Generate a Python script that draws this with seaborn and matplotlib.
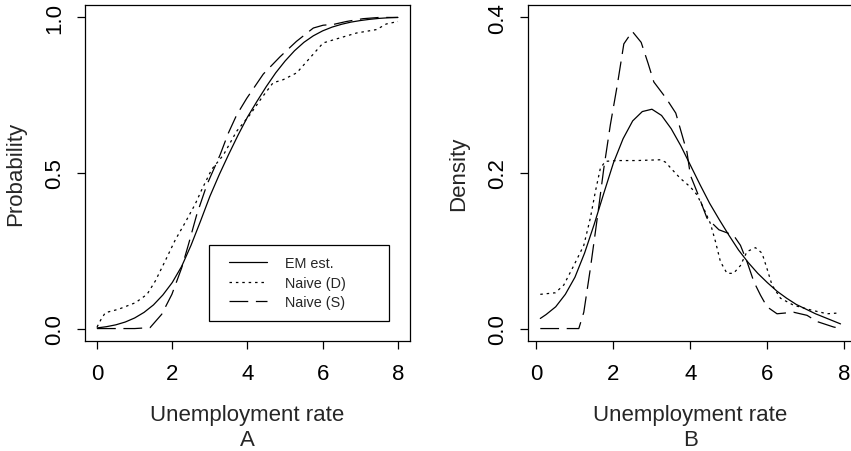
import numpy as np
import pandas as pd
import matplotlib
matplotlib.use("Agg")
import matplotlib.pyplot as plt
from matplotlib.patches import Rectangle
from matplotlib.lines import Line2D
import seaborn as sns

# ---- Panel A: estimated distribution functions of the unemployment rate ----
cdf_em_x = [0, 0.25, 0.5, 0.75, 1.0, 1.25, 1.5, 1.75, 2.0, 2.25, 2.5, 2.75, 3.0,
            3.25, 3.5, 3.75, 4.0, 4.25, 4.5, 4.75, 5.0, 5.25, 5.5, 5.75, 6.0,
            6.25, 6.5, 6.75, 7.0, 7.25, 7.5, 7.75, 8.0]
cdf_em_y = [0.002, 0.006, 0.012, 0.021, 0.034, 0.052, 0.076, 0.108, 0.148, 0.200,
            0.268, 0.345, 0.425, 0.495, 0.560, 0.622, 0.680, 0.730, 0.778, 0.822,
            0.860, 0.893, 0.920, 0.941, 0.957, 0.969, 0.978, 0.985, 0.990, 0.994,
            0.997, 0.999, 1.000]

cdf_d_x = [0.0, 0.1, 0.22, 0.57, 1.02, 1.33, 1.55, 1.81, 2.08, 2.34, 2.61, 2.79,
           3.05, 3.36, 3.71, 4.07, 4.38, 4.68, 4.95, 5.31, 5.66, 6.01, 6.45, 6.90,
           7.43, 7.69, 8.0]
cdf_d_y = [0.005, 0.028, 0.051, 0.062, 0.083, 0.110, 0.153, 0.217, 0.285, 0.340,
           0.400, 0.448, 0.512, 0.558, 0.634, 0.688, 0.742, 0.790, 0.800, 0.822,
           0.870, 0.918, 0.934, 0.950, 0.961, 0.979, 0.987]

cdf_s_x = [0.0, 0.5, 1.0, 1.41, 1.72, 1.99, 2.25, 2.43, 2.65, 2.92, 3.27, 3.49,
           3.71, 3.98, 4.42, 4.86, 5.30, 5.75, 6.01, 6.30, 6.63, 7.07, 7.50, 8.0]
cdf_s_y = [0.0, 0.0, 0.0, 0.003, 0.046, 0.110, 0.195, 0.270, 0.366, 0.462, 0.558,
           0.628, 0.686, 0.740, 0.818, 0.873, 0.923, 0.966, 0.975, 0.978, 0.987,
           0.996, 1.0, 1.0]

# ---- Panel B: estimated densities ----
pdf_em_x = [0.1, 0.25, 0.5, 0.75, 1.0, 1.25, 1.5, 1.75, 2.0, 2.25, 2.5, 2.75, 3.0,
            3.25, 3.5, 3.75, 4.0, 4.25, 4.5, 4.75, 5.0, 5.25, 5.5, 5.75, 6.0,
            6.25, 6.5, 6.75, 7.0, 7.25, 7.5, 7.75, 7.9]
pdf_em_y = [0.013, 0.018, 0.028, 0.044, 0.066, 0.097, 0.134, 0.174, 0.213, 0.244,
            0.267, 0.279, 0.282, 0.274, 0.257, 0.235, 0.210, 0.185, 0.161, 0.140,
            0.120, 0.101, 0.085, 0.071, 0.059, 0.048, 0.039, 0.031, 0.025, 0.019,
            0.014, 0.009, 0.006]

pdf_d_x = [0.1, 0.49, 0.71, 0.97, 1.23, 1.40, 1.53, 1.66, 1.79, 2.1, 2.6, 3.22,
           3.35, 3.57, 3.74, 4.0, 4.17, 4.35, 4.52, 4.65, 4.78, 4.95, 5.12, 5.30,
           5.47, 5.69, 5.86, 5.99, 6.12, 6.34, 6.68, 7.12, 7.55, 7.85]
pdf_d_y = [0.044, 0.046, 0.056, 0.081, 0.107, 0.142, 0.176, 0.206, 0.215, 0.216,
           0.216, 0.217, 0.214, 0.202, 0.193, 0.182, 0.172, 0.154, 0.135, 0.112,
           0.086, 0.071, 0.071, 0.081, 0.099, 0.104, 0.097, 0.077, 0.056, 0.039,
           0.030, 0.024, 0.019, 0.020]

pdf_s_x = [0.1, 0.6, 1.10, 1.23, 1.40, 1.58, 1.75, 1.92, 2.10, 2.27, 2.49, 2.72,
           2.90, 3.05, 3.37, 3.62, 3.91, 4.0, 4.17, 4.43, 4.74, 5.12, 5.30, 5.47,
           5.65, 5.82, 5.99, 6.25, 6.68, 7.03, 7.29, 7.72, 7.9]
pdf_s_y = [0.0, 0.0, 0.0, 0.021, 0.077, 0.142, 0.206, 0.262, 0.313, 0.366, 0.382,
           0.368, 0.341, 0.317, 0.296, 0.277, 0.227, 0.197, 0.176, 0.142, 0.127,
           0.120, 0.107, 0.086, 0.060, 0.043, 0.028, 0.019, 0.021, 0.017, 0.009,
           0.002, 0.0]

series_names = ["EM est.", "Naive (D)", "Naive (S)"]
x_ticks = [0, 2, 4, 6, 8]
prob_ticks = [0.0, 0.5, 1.0]
prob_labels = ["0.0", "0.5", "1.0"]
dens_ticks = [0.0, 0.2, 0.4]
dens_labels = ["0.0", "0.2", "0.4"]


def long_frame(pairs):
    frames = []
    for name, (xs, ys) in zip(series_names, pairs):
        frames.append(pd.DataFrame({"rate": xs, "value": ys, "series": name}))
    return pd.concat(frames, ignore_index=True)


cdf_df = long_frame([(cdf_em_x, cdf_em_y), (cdf_d_x, cdf_d_y), (cdf_s_x, cdf_s_y)])
pdf_df = long_frame([(pdf_em_x, pdf_em_y), (pdf_d_x, pdf_d_y), (pdf_s_x, pdf_s_y)])

sns.set_theme(style="white")
plt.rcParams["font.family"] = ["Liberation Sans", "DejaVu Sans"]
plt.rcParams["lines.scale_dashes"] = False

LW = 0.9
dash_map = {"EM est.": "", "Naive (D)": (1.8, 2.8), "Naive (S)": (13.5, 5.5)}
palette = {n: "black" for n in series_names}

fig = plt.figure(figsize=(8.51, 4.52), dpi=100)
axA = fig.add_axes([85 / 851, 1 - 342 / 452, 325 / 851, 336 / 452])
axB = fig.add_axes([528.3 / 851, 1 - 342 / 452, 0.3810, 336 / 452])

for ax, df in ((axA, cdf_df), (axB, pdf_df)):
    sns.lineplot(data=df, x="rate", y="value", hue="series", style="series",
                 dashes=dash_map, palette=palette, linewidth=LW,
                 estimator=None, sort=True, legend=False, ax=ax)

axA.set_xlim(-0.32, 8.32)
axA.set_ylim(-0.04, 1.04)
axB.set_xlim(-0.212, 8.212)
axB.set_ylim(-0.016, 0.416)

axA.set_yticks(prob_ticks)
axA.set_yticklabels(prob_labels)
axB.set_yticks(dens_ticks)
axB.set_yticklabels(dens_labels)

for ax, ylab, tag in ((axA, "Probability", "A"), (axB, "Density", "B")):
    ax.set_xticks(x_ticks)
    ax.set_xticklabels([str(t) for t in x_ticks])
    for side in ("left", "right", "top", "bottom"):
        ax.spines[side].set_visible(True)
        ax.spines[side].set_color("black")
        ax.spines[side].set_linewidth(0.9)
    ax.tick_params(axis="both", which="major", direction="out", length=5.5,
                   width=0.9, color="black", labelsize=16, labelcolor="black",
                   left=True, bottom=True)
    ax.tick_params(axis="x", pad=10)
    ax.tick_params(axis="y", pad=9, labelrotation=90)
    for lab in ax.get_yticklabels():
        lab.set_va("center")
    ax.set_xlabel("Unemployment rate\n" + tag, fontsize=16, labelpad=14.5,
                  linespacing=1.25)
    ax.set_ylabel(ylab, fontsize=16, labelpad=13)

# legend for panel A: frame plus sample lines
frame = Rectangle((0.3815, 0.0586), 0.554, 0.228, transform=axA.transAxes,
                  fill=False, edgecolor="black", linewidth=0.9, zorder=5)
axA.add_patch(frame)
handles = [Line2D([], [], color="black", linewidth=LW,
                  linestyle=(0, dash_map[n]) if dash_map[n] else "-")
           for n in series_names]
axA.legend(handles, series_names, loc="upper left",
           bbox_to_anchor=((229 - 85) / 325, (342 - 257.5) / 336),
           frameon=False, fontsize=10.4, handlelength=2.6, handletextpad=1.3,
           labelspacing=0.36, borderpad=0, borderaxespad=0)

fig.savefig("out.png", dpi=100)
